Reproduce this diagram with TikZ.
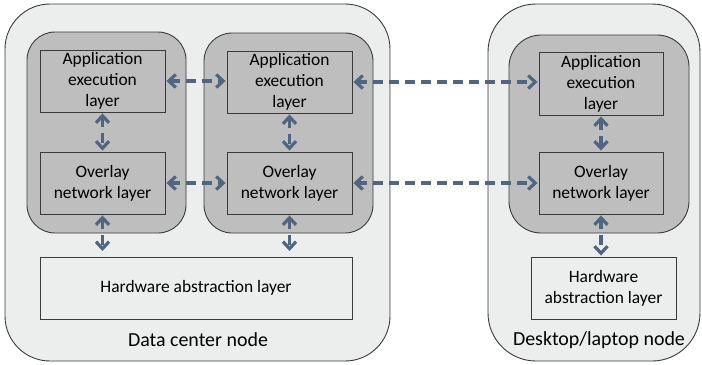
\documentclass[tikz,border=0pt]{standalone}
\usepackage{fontspec}
\setmainfont{Carlito}
\usetikzlibrary{arrows.meta}
\definecolor{outerfill}{HTML}{ECEEEE}
\definecolor{innerfill}{HTML}{BEBEBE}
\definecolor{edgecol}{HTML}{3A3A3A}
\definecolor{arrowcol}{HTML}{506680}
\begin{document}
\begin{tikzpicture}[x=1bp,y=-1bp,
  outerbox/.style={draw=edgecol,fill=outerfill,line width=0.9bp,rounded corners=45bp},
  innerbox/.style={draw=edgecol,fill=innerfill,line width=0.9bp,rounded corners=28bp},
  layerbox/.style={draw=edgecol,fill=innerfill,line width=0.9bp,rectangle,minimum width=125bp,minimum height=62bp,inner sep=0pt,align=center,font=\fontsize{17.5}{21}\selectfont},
  hwbox/.style={layerbox,fill=outerfill},
  link/.style={draw=arrowcol,line width=3.2bp,dash pattern=on 10bp off 6bp,{Straight Barb[length=7bp,width=13bp,line width=3.2bp]}-{Straight Barb[length=7bp,width=13bp,line width=3.2bp]},shorten <=1bp,shorten >=1bp},
  caption/.style={font=\fontsize{20}{24}\selectfont,inner sep=0pt}]
\useasboundingbox (0,0) rectangle (702,364);
% outer nodes
\draw[outerbox] (5,4) rectangle (390,361);
\draw[outerbox,rounded corners=48bp] (488,4) rectangle (700,361);
% inner gray containers
\draw[innerbox] (27,32) rectangle (186,233);
\draw[innerbox] (204,33) rectangle (373,233);
\draw[innerbox,rounded corners=32bp] (509,35) rectangle (689,233);
% layer boxes
\node[layerbox] (app1) at (102.5,81) {Application\\execution\\layer};
\node[layerbox] (ovl1) at (102.5,183) {Overlay\\network layer};
\node[layerbox] (app2) at (289.5,82) {Application\\execution\\layer};
\node[layerbox] (ovl2) at (289.5,183) {Overlay\\network layer};
\node[layerbox,minimum width=124bp,minimum height=63bp] (app3) at (601,83.5) {Application\\execution\\layer};
\node[layerbox,minimum width=124bp] (ovl3) at (601,183) {Overlay\\network layer};
\node[hwbox,minimum width=312bp] (hw1) at (196,288) {Hardware abstraction layer};
\node[hwbox,minimum width=145bp] (hw2) at (603.5,288) {Hardware\\abstraction layer};
% captions
\node[caption] (dc) at (198,340) {Data center node};
\node[caption] (dl) at (599,340) {Desktop/laptop node};
% arrows
\draw[link] (app1.east) -- (app2.west |- app1.east);
\draw[link] (app2.east) -- (app3.west |- app2.east);
\draw[link] (ovl1.east) -- (ovl2.west);
\draw[link] (ovl2.east) -- (ovl3.west);
\draw[link] (app1.south) -- (ovl1.north);
\draw[link] (app2.south) -- (ovl2.north);
\draw[link] (app3.south) -- (ovl3.north);
\coordinate (h1) at (102.5,252);
\coordinate (h2) at (289.5,252);
\draw[link] (ovl1.south) -- (h1);
\draw[link] (ovl2.south) -- (h2);
\draw[link] (ovl3.south) -- (hw2.north -| ovl3.south);
\end{tikzpicture}
\end{document}
